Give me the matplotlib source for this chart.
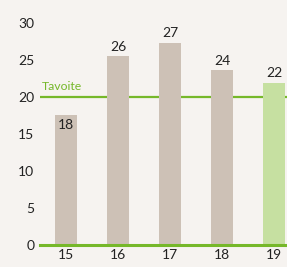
import matplotlib
matplotlib.use("Agg")
import matplotlib.pyplot as plt

years = ["15", "16", "17", "18", "19"]
values = [17.6, 25.5, 27.3, 23.6, 21.9]
labels = ["18", "26", "27", "24", "22"]
target = 20
target_label = "Tavoite"
yticks = [0, 5, 10, 15, 20, 25, 30]

bg = "#f6f3f0"
bar_col = "#cdc1b6"
last_col = "#c6e0a1"
green = "#76b82a"

plt.rcParams['font.family'] = ['Lato', 'DejaVu Sans']

fig = plt.figure(figsize=(2.87, 2.67), dpi=100, facecolor=bg)
ax = fig.add_axes([40/287, 22/267, 247/287, 222/267], facecolor=bg)

x = list(range(len(years)))
colors = [bar_col] * (len(years) - 1) + [last_col]
ax.bar(x, values, width=0.42, color=colors, zorder=2)

ax.axhline(target, color=green, lw=1.6, zorder=1)
ax.axhline(0, color=green, lw=2.2, zorder=3, clip_on=False)
ax.text(-0.47, target + 0.7, target_label, color=green, fontsize=8.8,
        ha="left", va="bottom")

for i, (v, l) in enumerate(zip(values, labels)):
    if i == 0:
        ax.text(i, v - 0.6, l, ha="center", va="top", fontsize=10, color="#222222")
    else:
        ax.text(i, v + 0.5, l, ha="center", va="bottom", fontsize=10, color="#222222")

ax.set_xlim(-0.5, 4.25)
ax.set_ylim(0, 30)
ax.set_xticks(x)
ax.set_xticklabels(years)
ax.set_yticks(yticks)
ax.tick_params(axis="both", length=0, labelsize=10, colors="#222222")
ax.tick_params(axis="y", pad=4)
ax.tick_params(axis="x", pad=3)
for s in ax.spines.values():
    s.set_visible(False)

fig.savefig("out.png", dpi=100, facecolor=bg)
